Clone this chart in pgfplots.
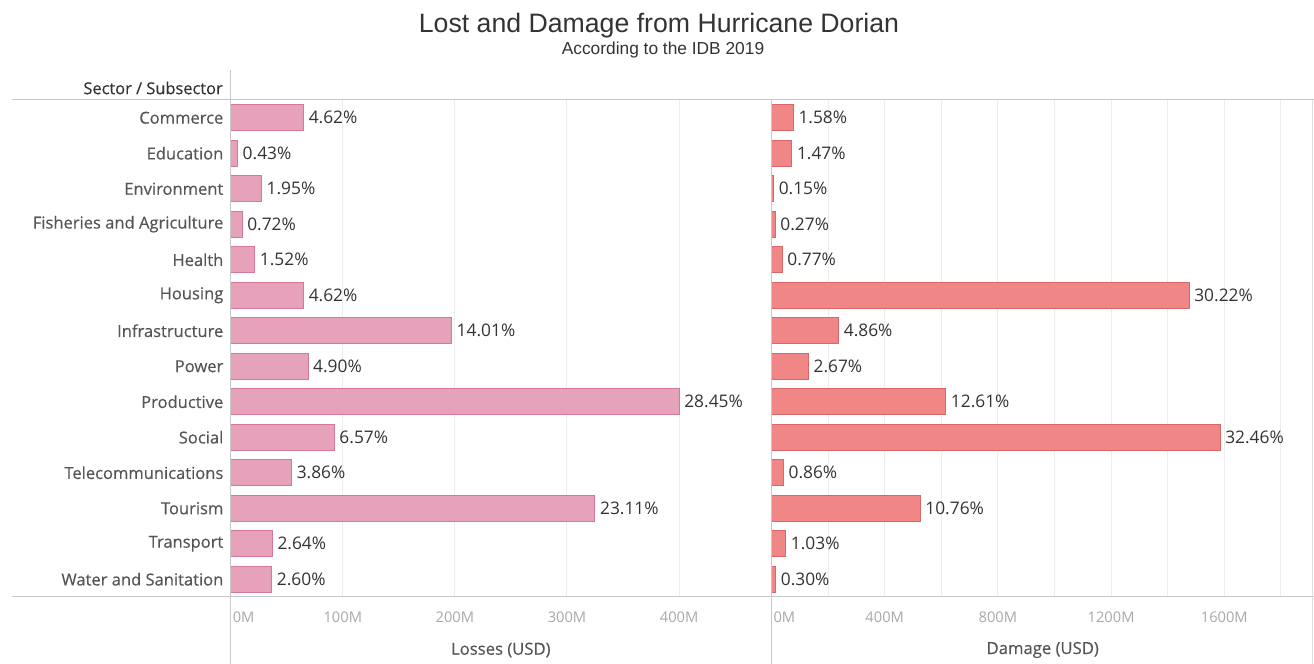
\documentclass[border=0pt]{standalone}
\usepackage{pgfplots}
\pgfplotsset{compat=1.18}
\usepackage{pgfplotstable}
\usepackage{fontspec}
\setmainfont{Open Sans}
\newfontfamily\cat[FakeBold=0.4]{Open Sans}
\newfontfamily\arial{Liberation Sans}
\definecolor{pinkfill}{HTML}{E6A1BB}
\definecolor{pinkdraw}{HTML}{D3789B}
\definecolor{salfill}{HTML}{F08686}
\definecolor{saldraw}{HTML}{D86868}
\definecolor{gridc}{HTML}{EDEDED}
\definecolor{linec}{HTML}{C8C8C8}
\definecolor{catc}{HTML}{555555}
\definecolor{valc}{HTML}{333333}
\definecolor{tickc}{HTML}{A8A8A8}
\definecolor{titc}{HTML}{333333}

\pgfplotstableread{
idx loss lp dam dp
0 64.96 4.62 77.15 1.58
1 6.05 0.43 71.78 1.47
2 27.42 1.95 7.32 0.15
3 10.12 0.72 13.18 0.27
4 21.37 1.52 37.60 0.77
5 64.96 4.62 1475.6 30.22
6 196.98 14.01 237.3 4.86
7 68.89 4.90 130.4 2.67
8 400.0 28.45 615.7 12.61
9 92.37 6.57 1585.0 32.46
10 54.27 3.86 42.0 0.86
11 324.9 23.11 525.4 10.76
12 37.12 2.64 50.3 1.03
13 36.56 2.60 14.65 0.30
}\data

\pgfplotsset{
  panel/.style={
    anchor=south west, scale only axis, height=372.75pt,
    ymin=-0.5, ymax=13.5, y dir=reverse,
    xbar, bar width=0.73, xmin=0,
    axis line style={draw=none}, tick style={draw=none},
    major tick length=0pt, minor tick length=0pt,
    xmajorgrids, grid style={gridc, line width=0.75pt},
    xticklabel style={font=\fontsize{11}{13}\selectfont, text=tickc, anchor=center, yshift=-15pt},
    extra x ticks={0}, extra x tick labels={0M},
    extra x tick style={grid=none, xticklabel style={anchor=west, xshift=-2pt}},
    clip=false,
    point meta=explicit symbolic,
    nodes near coords={\pgfplotspointmeta\%},
    nodes near coords style={font=\fontsize{13}{15}\selectfont, text=valc, anchor=west, xshift=0.3pt},
  }
}

\begin{document}
\begin{tikzpicture}
\useasboundingbox (0,0) rectangle (985.5pt,498pt);

\begin{axis}[panel,
  at={(173.03pt,50.25pt)}, width=405.2pt, xmax=482,
  xtick={100,200,300,400}, xticklabels={100M,200M,300M,400M},
  ytick={0,...,13},
  yticklabels={Commerce,Education,Environment,Fisheries and Agriculture,Health,Housing,Infrastructure,Power,Productive,Social,Telecommunications,Tourism,Transport,Water and Sanitation},
  yticklabel style={font=\cat\fontsize{12.4}{14}\selectfont, text=catc, anchor=east, xshift=-2pt},
]
\addplot[fill=pinkfill, draw=pinkdraw, line width=0.6pt] table[x=loss,y=idx,meta=lp]{\data};
\node[font=\cat\fontsize{12.5}{14}\selectfont, text=catc] at (axis description cs:0.5,0) [yshift=-39.75pt] {Losses (USD)};
\end{axis}

\begin{axis}[panel,
  at={(578.6pt,50.25pt)}, width=406.9pt, xmax=1917,
  xtick={400,800,1200,1600}, xticklabels={400M,800M,1200M,1600M},
  minor xtick={200,600,1000,1400,1800}, xminorgrids, minor grid style={gridc, line width=0.75pt},
  ytick=\empty,
]
\addplot[fill=salfill, draw=saldraw, line width=0.6pt] table[x=dam,y=idx,meta=dp]{\data};
\node[font=\cat\fontsize{12.5}{14}\selectfont, text=catc] at (axis description cs:0.5,0) [yshift=-39.75pt] {Damage (USD)};
\end{axis}

\begin{scope}[x=0.75pt,y=0.75pt]
\draw[linec, line width=0.75pt] (12,664-100) -- (1314,664-100);
\draw[linec, line width=0.75pt] (12,664-597) -- (1314,664-597);
\draw[linec, line width=0.75pt] (230.7,664-70) -- (230.7,0);
\draw[linec, line width=0.75pt] (771.5,664-100) -- (771.5,0);
\draw[gridc!60!linec, line width=0.75pt] (1312.5,664-100) -- (1312.5,0);
\node[font=\cat\fontsize{12.3}{14}\selectfont, text=valc, anchor=east, inner sep=0pt] at (223,664-88) {Sector / Subsector};
\node[font=\arial\fontsize{20}{24}\selectfont, text=titc, anchor=base] at (659,664-33) {Lost and Damage from Hurricane Dorian};
\node[font=\arial\fontsize{13}{15}\selectfont, text=titc, anchor=base] at (663,664-55) {According to the IDB 2019};
\end{scope}
\end{tikzpicture}
\end{document}
